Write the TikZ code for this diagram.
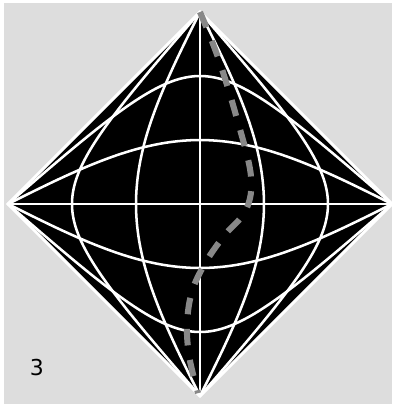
\documentclass[tikz,border=0pt]{standalone}
\usepackage{fontspec}
\setsansfont{DejaVu Sans}
\definecolor{canvas}{HTML}{DDDDDD}
\definecolor{worldline}{HTML}{888888}
\usetikzlibrary{calc}
\tikzset{
  gridline/.style={white, line width=1.5pt},
  rimline/.style={white, line width=1.8pt, line join=miter},
  pathline/.style={worldline, line width=3.6pt, dash pattern=on 9.8pt off 8.7pt},
}

\begin{document}
\begin{tikzpicture}[x=2cm, y=2cm]
  \useasboundingbox (-2.083,-2.083) rectangle (2.010,2.125);
  \fill[white] (-2.083,-2.083) rectangle (2.010,2.125);
  \fill[canvas] (-2.042,-2.083) rectangle (2.0,2.094);
  % diamond
  \fill[black] (0,2) -- (2,0) -- (0,-2) -- (-2,0) -- cycle;
  % lines of constant x and constant t
  \foreach \c in {-1.316958, -0.549306, 0.549306, 1.316958} {
    \draw[gridline] plot[domain=-8.4:8.4, samples=201, smooth, variable=\t]
      ({(atan(tanh((\t+\c)/2))-atan(tanh((\t-\c)/2)))/45},
       {(atan(tanh((\t+\c)/2))+atan(tanh((\t-\c)/2)))/45});
    \draw[gridline] plot[domain=-8.4:8.4, samples=201, smooth, variable=\t]
      ({(atan(tanh((\t+\c)/2))+atan(tanh((\t-\c)/2)))/45},
       {(atan(tanh((\t+\c)/2))-atan(tanh((\t-\c)/2)))/45});
  }
  \draw[gridline] (0,2) -- (0,-2);
  \draw[gridline] (-2,0) -- (2,0);
  \draw[rimline] (0,2) -- (2,0) -- (0,-2) -- (-2,0) -- cycle;
  % world line
  \draw[pathline] plot[smooth, tension=0.6] coordinates {
    (0,2) (0.19,1.52) (0.38,0.906) (0.53,0.30) (0.48,-0.06) (0.26,-0.32)
    (0.07,-0.59) (-0.08,-0.90) (-0.135,-1.25) (-0.11,-1.6) (-0.02,-1.97)};
  \node[font=\sffamily\fontsize{13}{13}\selectfont] (tag) at (-1.698,-1.708) {3};
\end{tikzpicture}
\end{document}
